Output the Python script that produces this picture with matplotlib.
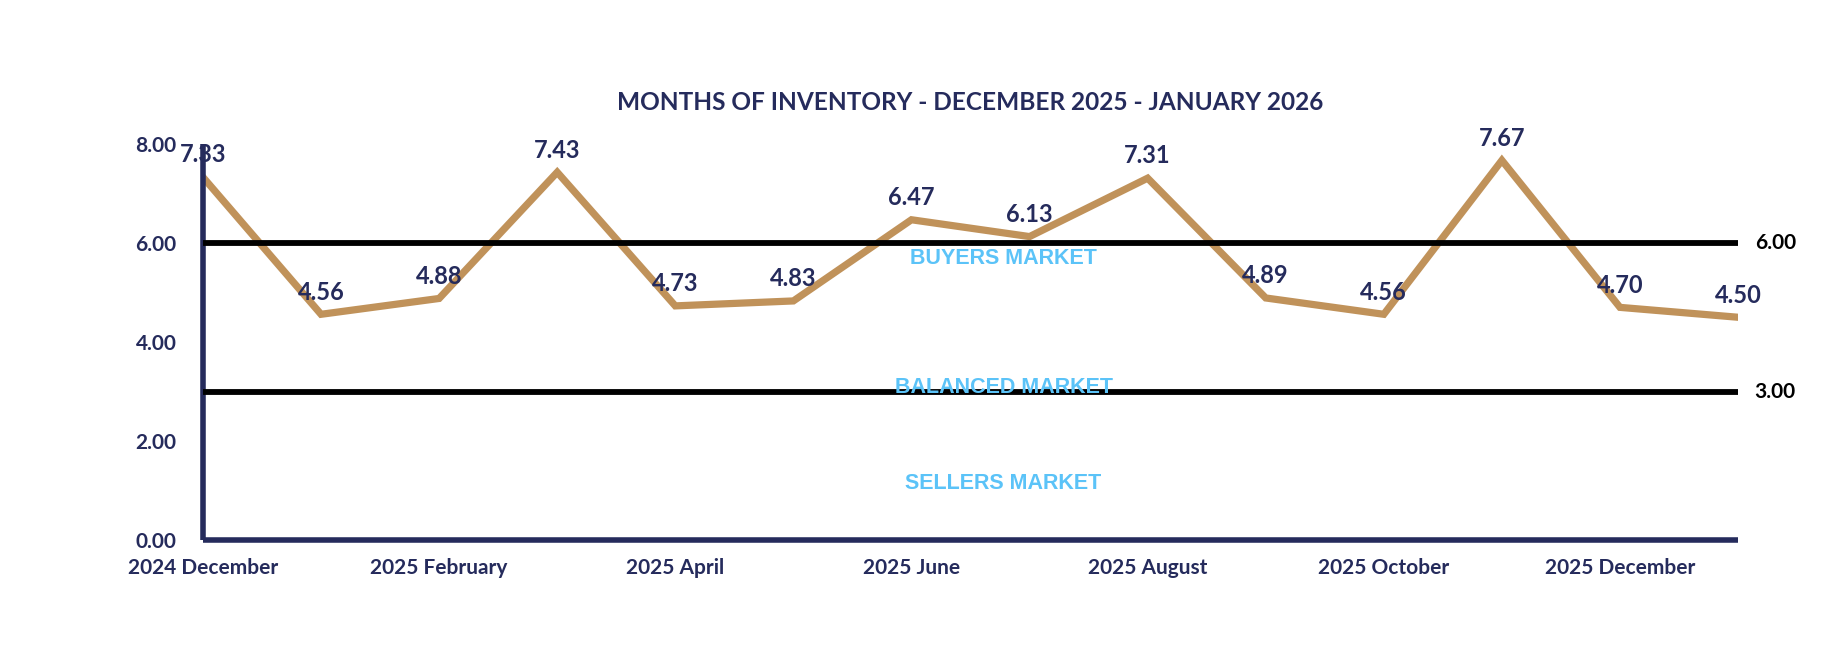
import matplotlib
matplotlib.use("Agg")
from matplotlib import pyplot as plt

# data
months = ['2024 December', '2025 January', '2025 February', '2025 March', '2025 April',
          '2025 May', '2025 June', '2025 July', '2025 August', '2025 September',
          '2025 October', '2025 November', '2025 December', '2026 January']
inventory = [7.33, 4.56, 4.88, 7.43, 4.73, 4.83, 6.47, 6.13, 7.31, 4.89, 4.56, 7.67, 4.70, 4.50]
buyers_line = 6.00
sellers_line = 3.00
zones = ['BUYERS MARKET', 'BALANCED MARKET', 'SELLERS MARKET']
zone_y = [5.69, 3.08, 1.14]
yticks = [0, 2, 4, 6, 8]

NAVY = '#252b5c'
GOLD = '#c0925a'
BLUE = '#5bc3f8'
FONT = 'Lato'

fig = plt.figure(figsize=(18.4, 6.68), dpi=100)
ax = fig.add_axes([0.1103, 0.1916, 0.8343, 0.5928])

x = list(range(len(months)))
ax.plot(x, inventory, color=GOLD, lw=5.2, solid_joinstyle='miter', zorder=2)
ax.plot(x, [buyers_line] * len(x), color='black', lw=4.2, zorder=3)
ax.plot(x, [sellers_line] * len(x), color='black', lw=4.2, zorder=3)

for xi, v in zip(x, inventory):
    ax.annotate(f'{v:.2f}', (xi, v), xytext=(0, 16), textcoords='offset points',
                ha='center', va='center', fontsize=17, fontweight='bold',
                color=NAVY, family=FONT, zorder=5)

for v in (buyers_line, sellers_line):
    ax.annotate(f'{v:.2f}', (x[-1], v), xytext=(12, 0), textcoords='offset points',
                ha='left', va='center', fontsize=15, fontweight='bold',
                color='black', family=FONT, annotation_clip=False)

for name, zy in zip(zones, zone_y):
    ax.text(6.78, zy, name, ha='center', va='center', fontsize=15.5, fontweight='bold',
            color=BLUE, family='Liberation Sans', zorder=6)

ax.set_xlim(0, len(months) - 1)
ax.set_ylim(0, 8)
ax.set_xticks(x[::2])
ax.set_xticklabels(months[::2])
ax.set_yticks(yticks)
ax.set_yticklabels([f'{t:.2f}' for t in yticks])
ax.tick_params(length=0, labelsize=15, labelcolor=NAVY)
ax.tick_params(axis='y', pad=19)
ax.tick_params(axis='x', pad=13)
for lab in ax.get_xticklabels() + ax.get_yticklabels():
    lab.set_fontweight('bold')
    lab.set_family(FONT)

for side in ('top', 'right'):
    ax.spines[side].set_visible(False)
for side in ('left', 'bottom'):
    ax.spines[side].set_color(NAVY)
    ax.spines[side].set_linewidth(4)
    ax.spines[side].set_capstyle('butt')

fig.text(0.527, 0.847, 'MONTHS OF INVENTORY - DECEMBER 2025 - JANUARY 2026',
         ha='center', va='center', fontsize=17.6, fontweight='bold', color=NAVY, family=FONT)

fig.savefig('out.png', dpi=100)
plt.close(fig)
